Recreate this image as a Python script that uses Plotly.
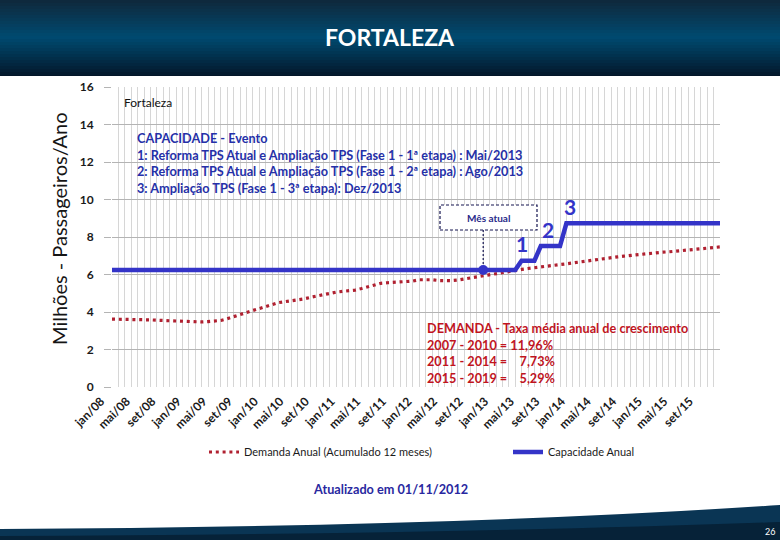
import plotly.graph_objects as go

# ---------------- data ----------------
month_names = ["jan", "fev", "mar", "abr", "mai", "jun", "jul", "ago", "set", "out", "nov", "dez"]
years = ["08", "09", "10", "11", "12", "13", "14", "15"]
months = [f"{m}/{y}" for y in years for m in month_names]

demanda_2008 = [3.62, 3.62, 3.61, 3.61, 3.60, 3.59, 3.58, 3.56, 3.55, 3.52, 3.50, 3.48]
demanda_2009 = [3.47, 3.46, 3.47, 3.49, 3.50, 3.55, 3.64, 3.76, 3.86, 3.98, 4.08, 4.18]
demanda_2010 = [4.30, 4.42, 4.50, 4.55, 4.59, 4.63, 4.70, 4.78, 4.86, 4.94, 5.00, 5.06]
demanda_2011 = [5.10, 5.13, 5.17, 5.25, 5.35, 5.45, 5.53, 5.56, 5.58, 5.59, 5.60, 5.65]
demanda_2012 = [5.72, 5.74, 5.72, 5.68, 5.66, 5.67, 5.70, 5.76, 5.83, 5.88, 5.93, 5.99]
demanda_2013 = [6.05, 6.10, 6.16, 6.22, 6.27, 6.32, 6.37, 6.40, 6.45, 6.49, 6.53, 6.57]
demanda_2014 = [6.62, 6.68, 6.73, 6.78, 6.83, 6.87, 6.91, 6.94, 6.98, 7.02, 7.06, 7.10]
demanda_2015 = [7.13, 7.16, 7.19, 7.21, 7.24, 7.27, 7.29, 7.32, 7.35, 7.39, 7.43, 7.47]
demanda = (demanda_2008 + demanda_2009 + demanda_2010 + demanda_2011 +
           demanda_2012 + demanda_2013 + demanda_2014 + demanda_2015)

capacidade_2008 = [6.24, 6.24, 6.24, 6.24, 6.24, 6.24, 6.24, 6.24, 6.24, 6.24, 6.24, 6.24]
capacidade_2009 = [6.24, 6.24, 6.24, 6.24, 6.24, 6.24, 6.24, 6.24, 6.24, 6.24, 6.24, 6.24]
capacidade_2010 = [6.24, 6.24, 6.24, 6.24, 6.24, 6.24, 6.24, 6.24, 6.24, 6.24, 6.24, 6.24]
capacidade_2011 = [6.24, 6.24, 6.24, 6.24, 6.24, 6.24, 6.24, 6.24, 6.24, 6.24, 6.24, 6.24]
capacidade_2012 = [6.24, 6.24, 6.24, 6.24, 6.24, 6.24, 6.24, 6.24, 6.24, 6.24, 6.24, 6.24]
capacidade_2013 = [6.24, 6.24, 6.24, 6.24, 6.74, 6.74, 6.74, 7.52, 7.52, 7.52, 7.52, 8.73]
capacidade_2014 = [8.73, 8.73, 8.73, 8.73, 8.73, 8.73, 8.73, 8.73, 8.73, 8.73, 8.73, 8.73]
capacidade_2015 = [8.73, 8.73, 8.73, 8.73, 8.73, 8.73, 8.73, 8.73, 8.73, 8.73, 8.73, 8.73]
capacidade = (capacidade_2008 + capacidade_2009 + capacidade_2010 + capacidade_2011 +
              capacidade_2012 + capacidade_2013 + capacidade_2014 + capacidade_2015)

mes_atual = "nov/12"
eventos = ["mai/13", "ago/13", "dez/13"]
eventos_labels = ["1", "2", "3"]

tick_vals = months
tick_text = [m if i % 4 == 0 else "" for i, m in enumerate(months)]

# ---------------- layout helpers (pixel -> paper) ----------------
W, H = 780, 540
L, R, T, B = 112, 60, 87, 153
PW, PH = W - L - R, H - T - B


def px(X):
    return (X - L) / PW


def py(Y):
    return (H - B - Y) / PH


FONT = "Lato"
BLUE = "#3434C8"
RED = "#B02030"
NAVY = "#2530A8"

fig = go.Figure()

fig.add_trace(go.Scatter(
    x=months, y=demanda, mode="lines", name="Demanda Anual (Acumulado 12 meses)",
    line=dict(color=RED, width=3.2, dash="3px,3.8px"), legend="legend",
))
fig.add_trace(go.Scatter(
    x=months, y=capacidade, mode="lines", name="Capacidade Anual",
    line=dict(color=BLUE, width=4.5), legend="legend2",
))
idx_atual = months.index(mes_atual)
fig.add_trace(go.Scatter(
    x=[mes_atual], y=[capacidade[idx_atual]], mode="markers", showlegend=False,
    marker=dict(color=BLUE, size=10),
))

shapes = []


def hexcol(c):
    return tuple(int(c[i:i + 2], 16) for i in (1, 3, 5))


def mix(c1, c2, t):
    a, b = hexcol(c1), hexcol(c2)
    return "rgb(%d,%d,%d)" % tuple(round(a[k] + (b[k] - a[k]) * t) for k in range(3))


# header gradient band
stops = [(0, "#0f283b"), (37, "#004a70"), (76, "#03172a")]
step = 3
for y0 in range(0, 76, step):
    yc = y0 + step / 2
    if yc <= 37:
        col = mix(stops[0][1], stops[1][1], yc / 37)
    else:
        col = mix(stops[1][1], stops[2][1], (yc - 37) / 39)
    shapes.append(dict(type="rect", xref="paper", yref="paper",
                       x0=px(0), x1=px(W), y0=py(min(y0 + step, 76)), y1=py(y0),
                       fillcolor=col, line=dict(width=0), layer="above"))


# footer band
def pt(X, Y):
    return f"{px(X):.5f},{py(Y):.5f}"


shapes.append(dict(type="path", xref="paper", yref="paper",
                   path=f"M {pt(0, 529)} Q {pt(450, 527)} {pt(780, 505)} L {pt(780, 540)} L {pt(0, 540)} Z",
                   fillcolor="#0a3554", line=dict(width=0), layer="above"))
shapes.append(dict(type="path", xref="paper", yref="paper",
                   path=f"M {pt(0, 536)} Q {pt(450, 534)} {pt(780, 522)} L {pt(780, 540)} L {pt(0, 540)} Z",
                   fillcolor="#062238", line=dict(width=0), layer="above"))

# white boxes hiding gridlines
shapes.append(dict(type="rect", xref="paper", yref="paper",
                   x0=px(125), x1=px(555), y0=py(200), y1=py(118),
                   fillcolor="white", line=dict(width=0), layer="between"))
shapes.append(dict(type="rect", xref="paper", yref="paper",
                   x0=px(415), x1=px(712), y0=py(385), y1=py(315),
                   fillcolor="white", line=dict(width=0), layer="between"))
# Mês atual box and connector
shapes.append(dict(type="rect", xref="paper", yref="paper",
                   x0=px(440), x1=px(537), y0=py(230), y1=py(205),
                   fillcolor="white", line=dict(width=1.2, color="#141450", dash="3px,2px"), layer="above"))
shapes.append(dict(type="line", xref="x", yref="paper",
                   x0=mes_atual, x1=mes_atual, y0=py(264), y1=py(230),
                   line=dict(width=1.2, color="#141450", dash="2px,2px"), layer="above"))

annotations = [
    dict(text="<b>FORTALEZA</b>", xref="paper", yref="paper", x=px(390), y=py(37),
         xanchor="center", yanchor="middle", showarrow=False,
         font=dict(family=FONT, size=23, color="white")),
    dict(text="26", xref="paper", yref="paper", x=px(770), y=py(531),
         xanchor="center", yanchor="middle", showarrow=False,
         font=dict(family=FONT, size=9, color="white")),
    dict(text="Fortaleza", xref="paper", yref="paper", x=px(122), y=py(102),
         xanchor="left", yanchor="middle", showarrow=False,
         font=dict(family=FONT, size=12, color="#111111")),
    dict(text="<b>CAPACIDADE - Evento<br>"
              "1: Reforma TPS Atual e Ampliação TPS (Fase 1 - 1ª etapa) : Mai/2013<br>"
              "2: Reforma TPS Atual e Ampliação TPS (Fase 1 - 2ª etapa) : Ago/2013<br>"
              "3: Ampliação TPS (Fase 1 - 3ª etapa): Dez/2013</b>",
         xref="paper", yref="paper", x=px(135), y=py(128), xanchor="left", yanchor="top",
         align="left", showarrow=False,
         font=dict(family=FONT, size=12.7, color=NAVY)),
    dict(text="<b>DEMANDA - Taxa média anual de crescimento<br>"
              "2007 - 2010 = 11,96%<br>"
              "2011 - 2014 =\u00a0\u00a0\u00a0\u00a07,73%<br>"
              "2015 - 2019 =\u00a0\u00a0\u00a0\u00a05,29%</b>",
         xref="paper", yref="paper", x=px(425), y=py(318), xanchor="left", yanchor="top",
         align="left", showarrow=False,
         font=dict(family=FONT, size=12.7, color="#C0141E")),
    dict(text="<b>Mês atual</b>", xref="paper", yref="paper", x=px(488.5), y=py(217.5),
         xanchor="center", yanchor="middle", showarrow=False,
         font=dict(family=FONT, size=10, color="#2a2a8a")),
    dict(text="Milhões - Passageiros/Ano", xref="paper", yref="paper", x=px(59), y=py(229),
         xanchor="center", yanchor="middle", textangle=-90, showarrow=False,
         font=dict(family=FONT, size=20, color="#151515")),
    dict(text="<b>Atualizado em 01/11/2012</b>", xref="paper", yref="paper", x=px(390), y=py(489),
         xanchor="center", yanchor="middle", showarrow=False,
         font=dict(family=FONT, size=12.7, color="#2828A0")),
]

xshifts = [0, 7, 4]
for ev, lab, xs in zip(eventos, eventos_labels, xshifts):
    annotations.append(dict(text=f"<b>{lab}</b>", x=ev, y=capacidade[months.index(ev)],
                            xref="x", yref="y", showarrow=False, yshift=17, xshift=xs,
                            font=dict(family=FONT, size=21, color=BLUE)))

legend_font = dict(family=FONT, size=11, color="#1a1a1a")
fig.update_layout(
    width=W, height=H,
    margin=dict(l=L, r=R, t=T, b=B),
    paper_bgcolor="white", plot_bgcolor="white",
    font=dict(family=FONT, color="#1a1a1a"),
    shapes=shapes, annotations=annotations,
    legend=dict(orientation="h", x=px(204), xanchor="left", y=py(452), yanchor="middle",
                font=legend_font, bgcolor="rgba(0,0,0,0)", itemwidth=30),
    legend2=dict(orientation="h", x=px(508), xanchor="left", y=py(452), yanchor="middle",
                 font=legend_font, bgcolor="rgba(0,0,0,0)", itemwidth=30),
    xaxis=dict(
        type="category", range=[0, len(months) - 1],
        tickmode="array", tickvals=tick_vals, ticktext=tick_text,
        tickangle=-45, showgrid=True, gridcolor="#d6d6d6", gridwidth=1,
        showline=False, zeroline=False, ticks="",
        ticklabelshift=-11, ticklabelstandoff=4,
        tickfont=dict(family=FONT, size=12, color="#1a1a1a", weight="bold"),
    ),
    yaxis=dict(
        range=[0, 16], dtick=2, showgrid=True, gridcolor="#b4b4b4", gridwidth=1,
        zeroline=False, showline=False, ticks="outside", ticklen=7, tickcolor="#b4b4b4",
        ticklabelstandoff=8,
        tickfont=dict(family=FONT, size=12, color="#1a1a1a", weight="bold"),
    ),
)

fig.write_html("out.html", config={"displayModeBar": False},
               post_script="document.body.style.margin='0px';")
